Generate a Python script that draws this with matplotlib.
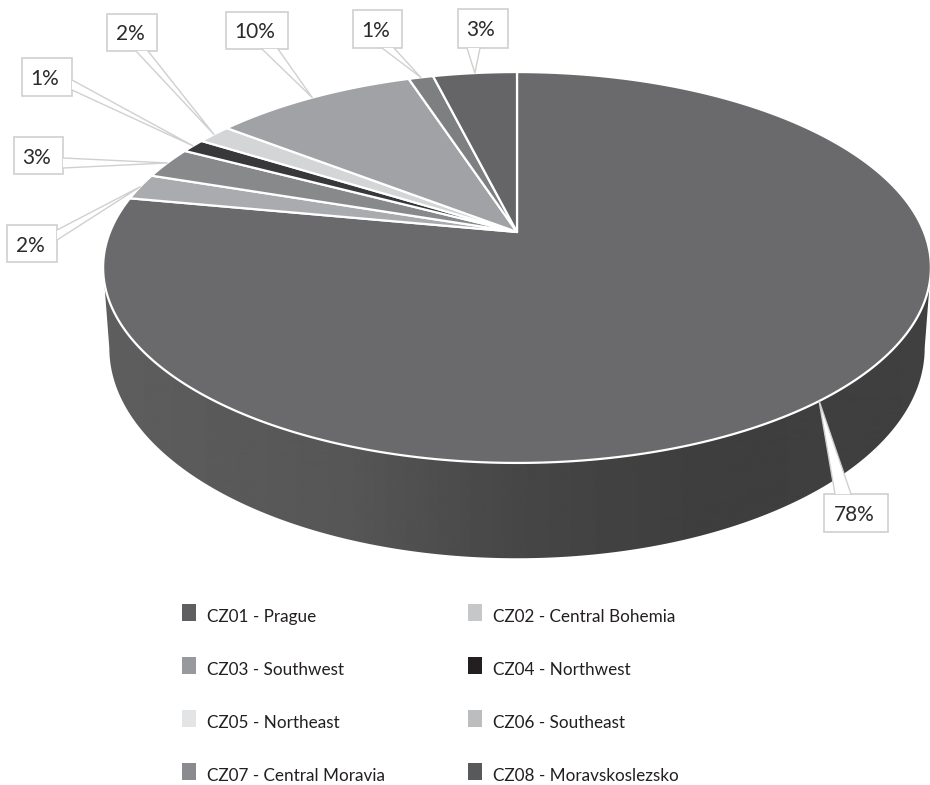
import numpy as np
import matplotlib
matplotlib.use("Agg")
from matplotlib import pyplot as plt
from matplotlib.patches import Polygon, Rectangle

plt.rcParams['font.family'] = ['Lato', 'DejaVu Sans']

# slices clockwise from 12 o'clock, percent
regions = ['CZ01 - Prague', 'CZ02 - Central Bohemia', 'CZ03 - Southwest', 'CZ04 - Northwest',
           'CZ05 - Northeast', 'CZ06 - Southeast', 'CZ07 - Central Moravia', 'CZ08 - Moravskoslezsko']
shares = [77.95, 2.15, 2.6, 1.15, 1.6, 9.5, 1.15, 3.9]
labels = ['78%', '2%', '3%', '1%', '2%', '10%', '1%', '3%']
slice_colors = ['#6a6a6c', '#a9abae', '#88898b', '#38383a', '#d4d5d6', '#a1a2a5', '#7e7f81', '#656567']
legend_colors = ['#5f5f61', '#c6c7c8', '#98999c', '#231f20', '#e3e4e5', '#bcbdbf', '#8a8b8e', '#58595b']

# callout boxes in pixels: x0, y0, x1, y1, then the two base points of the pointer
boxes = [(824, 494, 888, 532, 835, 494, 851, 494),
         (7, 225, 57, 262, 57, 230, 57, 240),
         (14, 137, 63, 174, 63, 158, 63, 168),
         (22, 58, 72, 96, 72, 80, 72, 90),
         (107, 14, 157, 51, 136, 51, 148, 51),
         (226, 12, 288, 49, 262, 49, 278, 49),
         (353, 10, 402, 48, 382, 48, 394, 48),
         (458, 9, 508, 48, 467, 48, 480, 48)]

# perspective of the tilted disc
cx, cy = 517, 232
rx, ry, k = 407, 189, 0.1816
depth = 78
shrink = 0.985


def top(theta):
    u, v = np.sin(theta), -np.cos(theta)
    d = 1 - k * v
    return cx + rx * u / d, cy + ry * v / d


def bottom(theta):
    u, v = np.sin(theta), -np.cos(theta)
    d = 1 - k * v
    return cx + shrink * rx * u / d, cy + (ry * v + depth) / d


fig = plt.figure(figsize=(9.3, 7.85), dpi=100)
ax = fig.add_axes([0, 0, 1, 1])

# side wall, front part of the rim only
lim = np.arccos(k)
t = np.linspace(np.pi - lim, np.pi + lim, 400)
tx, ty = top(t)
bx, by = bottom(t)
wall = Polygon(np.r_[np.c_[tx, ty], np.c_[bx, by][::-1]], closed=True, fc='none', ec='none')
ax.add_patch(wall)
grad = np.interp(np.linspace(0, 930, 465), [100, 350, 520, 700, 930], [94, 86, 70, 62, 64])
im = ax.imshow(grad[None, :], extent=(0, 930, 785, 0), cmap='gray', vmin=0, vmax=255,
               aspect='auto', zorder=1)
im.set_clip_path(wall)

# top face
edges = np.r_[0, np.cumsum(shares)] / sum(shares) * 2 * np.pi
for i, col in enumerate(slice_colors):
    a = np.linspace(edges[i], edges[i + 1], 300)
    x, y = top(a)
    ax.add_patch(Polygon(np.r_[[[cx, cy]], np.c_[x, y]], closed=True, fc=col, ec='white',
                         lw=1.6, zorder=2, joinstyle='round'))

# callouts
for i, b in enumerate(boxes):
    mid = (edges[i] + edges[i + 1]) / 2
    tipx, tipy = top(mid)
    x0, y0, x1, y1, ax0, ay0, ax1, ay1 = b
    ax.add_patch(Rectangle((x0, y0), x1 - x0, y1 - y0, fc='white', ec='#d0d0d0', lw=1.2, zorder=3))
    ax.add_patch(Polygon([(ax0, ay0), (tipx, tipy), (ax1, ay1)], closed=True, fc='white',
                         ec='none', zorder=4))
    ax.plot([ax0, tipx, ax1], [ay0, tipy, ay1], color='#d0d0d0', lw=1.0, zorder=4)
    ax.text((x0 + x1) / 2 - 2, (y0 + y1) / 2 + 2, labels[i], ha='center', va='center',
            fontsize=15, color='#2b2b2b', zorder=5)

# legend, two columns
for i, name in enumerate(regions):
    row, col = i // 2, i % 2
    lx = 182 + col * 286
    ly = 604 + row * 53
    ax.add_patch(Rectangle((lx, ly), 14, 17, fc=legend_colors[i], ec='none'))
    ax.text(lx + 25, ly + 18, name, ha='left', va='baseline', fontsize=12.3, color='#231f20')

ax.set_xlim(0, 930)
ax.set_ylim(785, 0)
ax.axis('off')
fig.savefig('out.png', dpi=100, facecolor='white')
